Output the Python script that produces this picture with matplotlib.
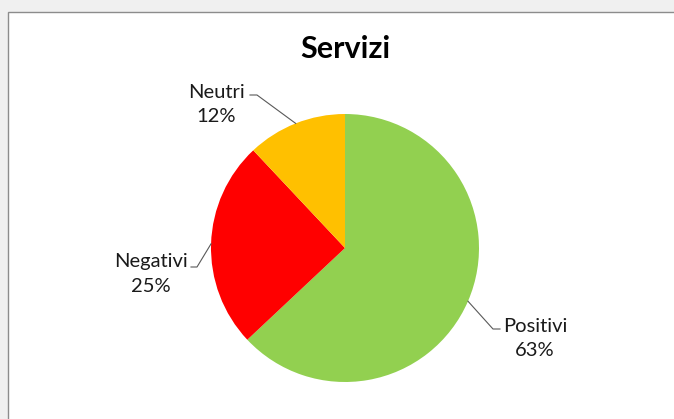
import numpy as np
import matplotlib.pyplot as plt
from matplotlib.patches import Rectangle

# ------------------------- data --------------------------------
labels = ['Positivi', 'Negativi', 'Neutri']
values = [63, 25, 12]
colors = ['#92D050', '#FF0000', '#FFC000']
title = 'Servizi'

plt.rcParams['font.family'] = ['Lato', 'DejaVu Sans']

# ------------------------- figure --------------------------------
W, H = 674, 419
fig = plt.figure(figsize=(W / 100, H / 100), dpi=100, facecolor='#F0F0F0')

ax = fig.add_axes([0, 0, 1, 1])

cx, cy, r = 345, H - 248, 134
wedges, _ = ax.pie(values, colors=colors, startangle=90, counterclock=False,
                   center=(cx, cy), radius=r, frame=True,
                   wedgeprops=dict(linewidth=0))
ax.set_xlim(0, W)
ax.set_ylim(0, H)
ax.set_aspect('equal')
ax.axis('off')

# white chart area with grey border
ax.add_patch(Rectangle((7.5, -2), W + 5, H - 11.5 + 2, facecolor='white',
                       edgecolor='#8C8C8C', linewidth=1, zorder=-1, clip_on=False))

ax.text(345, H - 49, title, ha='center', va='center', fontsize=22, fontweight='bold')

# label text positions (pixels) and leader elbow points
text_pos = {'Positivi': (535, H - 338), 'Negativi': (151, H - 274), 'Neutri': (216, H - 104)}
elbow = {'Positivi': ((500, H - 329), (493, H - 329)),
         'Negativi': ((191, H - 267), (197, H - 267)),
         'Neutri': ((250, H - 95), (257, H - 95))}

for w, lab, v in zip(wedges, labels, values):
    ang = np.deg2rad((w.theta1 + w.theta2) / 2)
    ex, ey = cx + r * np.cos(ang), cy + r * np.sin(ang)
    (x0, y0), (x1, y1) = elbow[lab]
    ax.plot([x0, x1, ex], [y0, y1, ey], color='#595959', linewidth=0.8)
    tx, ty = text_pos[lab]
    ax.text(tx, ty, f'{lab}\n{v}%', ha='center', va='center', fontsize=14.5,
            color='#1A1A1A', linespacing=1.5)

fig.savefig('out.png', dpi=100, facecolor=fig.get_facecolor())
